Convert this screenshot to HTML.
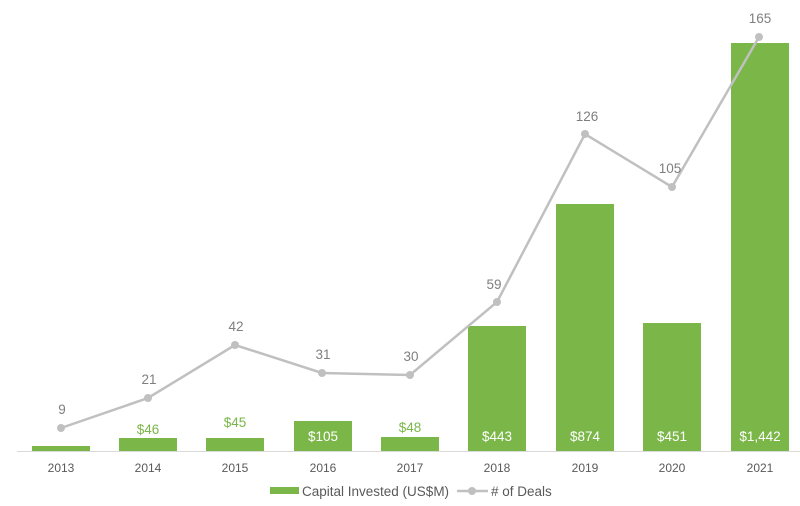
<!DOCTYPE html>
<html><head><style>body{margin:0;background:#fff}svg{display:block}text{font-family:"Liberation Sans",sans-serif}</style></head><body>
<svg width="800" height="506" viewBox="0 0 800 506">
<line x1="17" y1="451.5" x2="800" y2="451.5" stroke="#d9d9d9" stroke-width="1"/>
<g fill="#7ab648">
<rect x="32" y="446" width="58" height="5"/>
<rect x="119" y="438" width="58" height="13"/>
<rect x="206" y="438" width="58" height="13"/>
<rect x="294" y="421" width="58" height="30"/>
<rect x="381" y="437" width="58" height="14"/>
<rect x="468" y="326" width="58" height="125"/>
<rect x="556" y="204" width="58" height="247"/>
<rect x="643" y="323" width="58" height="128"/>
<rect x="731" y="43" width="58" height="408"/>
</g>
<g font-size="13.5" text-anchor="middle" fill="#7ab648">
<text x="148" y="434">$46</text><text x="235" y="427">$45</text><text x="410" y="432">$48</text>
</g>
<g font-size="13.5" text-anchor="middle" fill="#fff">
<text x="323" y="441">$105</text><text x="497" y="441">$443</text><text x="585" y="441">$874</text><text x="672" y="441">$451</text><text x="760" y="441">$1,442</text>
</g>
<polyline fill="none" stroke="#c0c0c0" stroke-width="2.5" points="61,428 148,398 235,345 322,373 410,375 497,302 585,134 672,187 759,37"/>
<g fill="#c0c0c0">
<circle cx="61" cy="428" r="4"/><circle cx="148" cy="398" r="4"/><circle cx="235" cy="345" r="4"/><circle cx="322" cy="373" r="4"/><circle cx="410" cy="375" r="4"/><circle cx="497" cy="302" r="4"/><circle cx="585" cy="134" r="4"/><circle cx="672" cy="187" r="4"/><circle cx="759" cy="37" r="4"/>
</g>
<g font-size="13.5" text-anchor="middle" fill="#7f7f7f">
<text x="62" y="414">9</text><text x="149" y="384">21</text><text x="236" y="331">42</text><text x="323" y="359">31</text><text x="411" y="361">30</text><text x="494" y="289">59</text><text x="587" y="121">126</text><text x="670" y="173">105</text><text x="760" y="23">165</text>
</g>
<g font-size="12" text-anchor="middle" fill="#595959">
<text x="61" y="472">2013</text><text x="148" y="472">2014</text><text x="235" y="472">2015</text><text x="323" y="472">2016</text><text x="410" y="472">2017</text><text x="497" y="472">2018</text><text x="585" y="472">2019</text><text x="672" y="472">2020</text><text x="760" y="472">2021</text>
</g>
<rect x="270" y="487" width="29" height="7" fill="#7ab648"/>
<text x="302" y="496" font-size="13.5" fill="#595959">Capital Invested (US$M)</text>
<line x1="457" y1="491" x2="488" y2="491" stroke="#c0c0c0" stroke-width="2.5"/>
<circle cx="472" cy="491" r="4" fill="#c0c0c0"/>
<text x="491" y="496" font-size="13.5" fill="#595959"># of Deals</text>
</svg>
</body></html>
